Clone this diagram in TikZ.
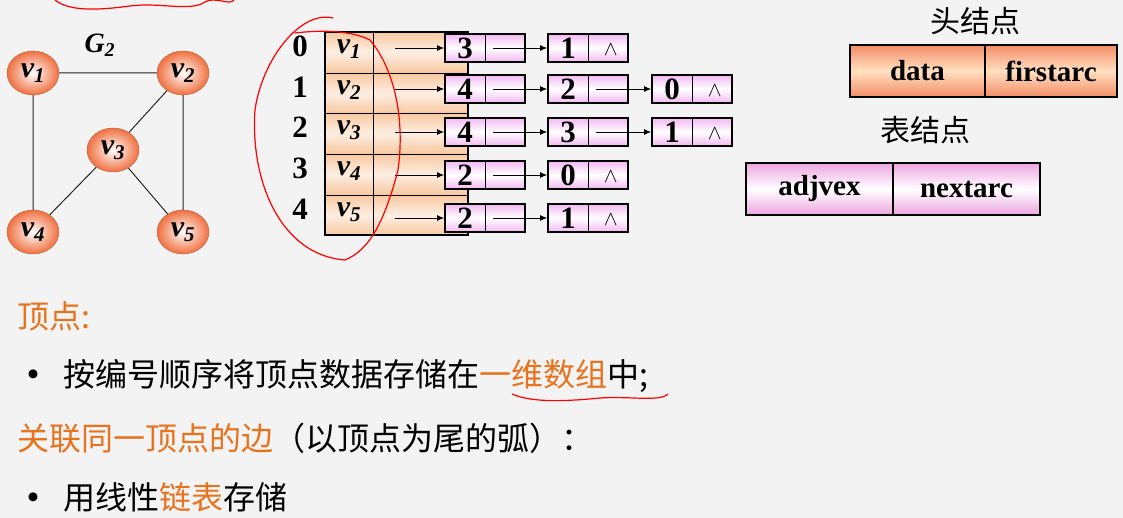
\documentclass[tikz,border=0pt]{standalone}
\usepackage{fontspec}
\setmainfont{Liberation Serif}
\newfontfamily\cjk{Noto Sans CJK SC}
\usetikzlibrary{shapes.geometric,arrows.meta}
\definecolor{bg}{HTML}{F3F3F3}
\definecolor{org}{HTML}{F07040}
\definecolor{txo}{HTML}{E8731E}
\definecolor{arr}{HTML}{F8C8A0}
\definecolor{pnk}{HTML}{F2B8F2}
\begin{document}
\begin{tikzpicture}[x=1pt,y=-1pt,
 vx/.style={ellipse,minimum width=52pt,minimum height=44pt,inner sep=0pt,shading=radial,inner color=white,outer color=org,draw=org!80!black,font=\bfseries\itshape\fontsize{30}{30}\selectfont},
 lst/.style={draw,line width=1.8pt,top color=pnk,bottom color=pnk,middle color=white,minimum height=28pt,inner sep=0pt},
 num/.style={font=\bfseries\fontsize{31}{31}\selectfont},
 ar/.style={-{Latex[length=7pt,width=6pt]},line width=0.9pt},
 ct/.style={font=\cjk\fontsize{32}{32}\selectfont,anchor=west},
 red/.style={draw=red,line width=1.2pt}]
\fill[bg] (0,0) rectangle (1123,518);
\useasboundingbox (0,0) rectangle (1123,518);
% graph
\node[font=\bfseries\itshape\fontsize{28}{28}\selectfont] (g) at (100,45) {G\textsubscript{2}};
\node[vx] (v1) at (33,73) {v\textsubscript{1}};
\node[vx] (v2) at (183,73) {v\textsubscript{2}};
\node[vx] (v3) at (113,150) {v\textsubscript{3}};
\node[vx] (v4) at (33,232) {v\textsubscript{4}};
\node[vx] (v5) at (183,232) {v\textsubscript{5}};
\draw[line width=1pt,black!85] (v1)--(v2) (v1)--(v4) (v2)--(v5) (v2)--(v3) (v3)--(v4) (v3)--(v5);
% array
\foreach \i/\y in {0/32,1/73,2/113,3/154,4/195}{
 \pgfmathtruncatemacro\k{\i+1}
 \node[num] (idx\i) at (300,\y+14) {\i};
 \fill[top color=arr,bottom color=arr,middle color=white!70!arr] (325,\y) rectangle (468,\y+40.6);
 \node[font=\bfseries\itshape\fontsize{30}{30}\selectfont] (a\i) at (349,\y+17) {v\textsubscript{\k}};
 \coordinate (p\i) at (395,\y+20);
}
\draw[line width=0.7pt] (325,73)--(468,73) (325,113)--(468,113) (325,154)--(468,154) (325,195)--(468,195) (373,32)--(373,235);
\draw[line width=2.2pt] (325,32) rectangle (468,235);
% lists
\newcommand\lnode[4]{%
 \node[lst,minimum width=80pt] (#1) at (#2+40,#3) {};
 \draw[line width=0.8pt] (#2+40,#3-14)--(#2+40,#3+14);
 \node[num] (#1t) at (#2+20,#3) {#4};
 \coordinate (#1p) at (#2+48,#3);}
\newcommand\nil[1]{\node[font=\fontsize{22}{22}\selectfont] at ([xshift=-18pt,yshift=-2pt]#1.east) {$\wedge$};}
\lnode{a}{445}{48}{3}\lnode{b}{548}{48}{1}\nil{b}
\lnode{c}{445}{89}{4}\lnode{d}{548}{89}{2}\lnode{e}{652}{89}{0}\nil{e}
\lnode{f}{445}{132}{4}\lnode{g2}{548}{132}{3}\lnode{h}{652}{132}{1}\nil{h}
\lnode{i}{445}{175}{2}\lnode{j}{548}{175}{0}\nil{j}
\lnode{k}{445}{218}{2}\lnode{l}{548}{218}{1}\nil{l}
\draw[ar] (p0|-a.west)--(a.west); \draw[ar] (ap)--(b.west);
\draw[ar] (p1|-c.west)--(c.west); \draw[ar] (cp)--(d.west); \draw[ar] (dp)--(e.west);
\draw[ar] (p2|-f.west)--(f.west); \draw[ar] (fp)--(g2.west); \draw[ar] (g2p)--(h.west);
\draw[ar] (p3|-i.west)--(i.west); \draw[ar] (ip)--(j.west);
\draw[ar] (p4|-k.west)--(k.west); \draw[ar] (kp)--(l.west);
% legends
\tikzset{leg/.style={lst,line width=2pt,minimum height=52pt,font=\bfseries\fontsize{29}{29}\selectfont}}
\node[font=\cjk\fontsize{30}{30}\selectfont] (hd) at (975,21) {头结点};
\node[leg,minimum width=135pt,top color=org!80,bottom color=org!80,middle color=white!40!orange!40] (dt) at (917.5,71) {data};
\node[leg,minimum width=132pt,top color=org!80,bottom color=org!80,middle color=white!40!orange!40] (fa) at (1051,71) {firstarc};
\node[font=\cjk\fontsize{30}{30}\selectfont] (bd) at (925,130) {表结点};
\node[leg,minimum width=147pt,top color=pnk!90!purple,bottom color=pnk!90!purple,middle color=white] (adj) at (819.5,189) {adjvex};
\node[leg,minimum width=147pt,top color=pnk!90!purple,bottom color=pnk!90!purple,middle color=white] (nx) at (966.5,189) {nextarc};
% text
\node[ct,text=txo] (t1) at (14,316) {顶点:};
\node[ct] (t2) at (14,376) {\textbf{•}\ \ 按编号顺序将顶点数据存储在\textcolor{txo}{一维数组}中;};
\node[ct] (t3) at (14,438) {\textcolor{txo}{关联同一顶点的边}（以顶点为尾的弧）：};
\node[ct] (t4) at (14,497) {\textbf{•}\ \ 用线性\textcolor{txo}{链表}存储};
% red marks
\draw[red] (55,0) .. controls (70,12) and (100,10) .. (130,6) .. controls (160,2) and (190,12) .. (205,2) .. controls (215,-4) and (230,6) .. (234,0);
\draw[red] (333,18) .. controls (300,10) and (262,60) .. (255,110) .. controls (250,180) and (280,255) .. (345,260) .. controls (370,250) and (385,220) .. (398,170) .. controls (405,120) and (395,70) .. (370,40) .. controls (350,30) and (320,30) .. (295,33);
\draw[red] (512,394) .. controls (530,402) and (560,402) .. (600,398) .. controls (630,396) and (660,402) .. (668,394);
\end{tikzpicture}
\end{document}
